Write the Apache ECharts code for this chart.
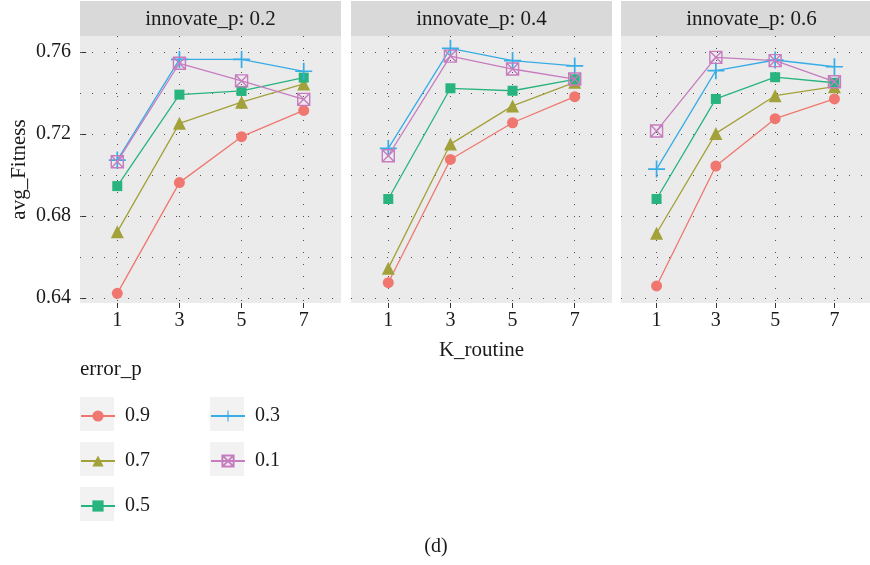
<!DOCTYPE html>
<html>
<head>
<meta charset="utf-8">
<script src="https://cdn.jsdelivr.net/npm/echarts@6/dist/echarts.min.js"></script>
<style>
  html, body { margin: 0; padding: 0; background: #fff; }
  #chart { width: 870px; height: 565px; }
</style>
</head>
<body>
<div id="chart"></div>
<script>
    // K_routine 取值
    var kRoutine = [1, 3, 5, 7];
    var yTicks = [0.64, 0.68, 0.72, 0.76];
    var yGrid = [0.64, 0.66, 0.68, 0.70, 0.72, 0.74, 0.76];
    var errorLevels = ['0.9', '0.7', '0.5', '0.3', '0.1'];
    var innovateLevels = ['0.2', '0.4', '0.6'];

    // innovate_p = 0.2
    var i02_e09 = [0.6423, 0.6963, 0.7187, 0.7315];
    var i02_e07 = [0.6723, 0.7252, 0.7355, 0.7444];
    var i02_e05 = [0.6946, 0.7392, 0.7410, 0.7475];
    var i02_e03 = [0.7073, 0.7564, 0.7564, 0.7506];
    var i02_e01 = [0.7065, 0.7545, 0.7459, 0.7369];
    // innovate_p = 0.4
    var i04_e09 = [0.6475, 0.7076, 0.7255, 0.7382];
    var i04_e07 = [0.6545, 0.7151, 0.7337, 0.7452];
    var i04_e05 = [0.6883, 0.7423, 0.7411, 0.7467];
    var i04_e03 = [0.7130, 0.7618, 0.7558, 0.7532];
    var i04_e01 = [0.7094, 0.7580, 0.7517, 0.7468];
    // innovate_p = 0.6
    var i06_e09 = [0.6459, 0.7044, 0.7275, 0.7371];
    var i06_e07 = [0.6716, 0.7203, 0.7387, 0.7431];
    var i06_e05 = [0.6883, 0.7371, 0.7477, 0.7450];
    var i06_e03 = [0.7029, 0.7509, 0.7561, 0.7528];
    var i06_e01 = [0.7215, 0.7574, 0.7558, 0.7455];

    var panels = [
        [i02_e09, i02_e07, i02_e05, i02_e03, i02_e01],
        [i04_e09, i04_e07, i04_e05, i04_e03, i04_e01],
        [i06_e09, i06_e07, i06_e05, i06_e03, i06_e01]
    ];

    var colors = ['#EF776F', '#A3A13A', '#27B47E', '#38ADE5', '#C67CBF'];
    var plusPath = 'path://M0,7.2H16V8.8H0Z M7.2,0H8.8V16H7.2Z';
    var boxXPath = 'path://M0,0H10V10H0Z M0,0L10,10 M10,0L0,10';
    var symbols = ['circle', 'triangle', 'rect', plusPath, boxXPath];
    var symbolSizes = [11, 13, 10, 17, 12];

    var font = 'Liberation Serif';
    var gridLeft = [80, 351, 621];
    var gridW = 261, gridTop = 36, gridH = 267;
    var dotted = { color: '#4d4d4d', width: 1, type: [1, 11] };

    var grids = [], xAxes = [], yAxes = [], series = [], graphics = [];

    gridLeft.forEach(function (left, g) {
        grids.push({
            left: left, top: gridTop, width: gridW, height: gridH,
            show: true, backgroundColor: '#EBEBEB', borderWidth: 0
        });
        xAxes.push({
            type: 'value', gridIndex: g, min: -0.2, max: 8.2,
            name: g === 1 ? 'K_routine' : '',
            nameLocation: 'middle', nameGap: 37,
            nameTextStyle: { fontFamily: font, fontSize: 21, color: '#1a1a1a' },
            axisLine: { show: false },
            axisTick: { show: true, length: 5, customValues: kRoutine, lineStyle: { color: '#333' } },
            axisLabel: { customValues: kRoutine, margin: 8, fontFamily: font, fontSize: 20, color: '#1a1a1a' },
            splitLine: { show: true, lineStyle: dotted }
        });
        // 刻度与标签
        yAxes.push({
            type: 'value', gridIndex: g, min: 0.6376, max: 0.7678,
            name: g === 0 ? 'avg_Fitness' : '',
            nameLocation: 'middle', nameGap: 50, nameRotate: 90,
            nameTextStyle: { fontFamily: font, fontSize: 21, color: '#1a1a1a' },
            axisLine: { show: false },
            axisTick: { show: g === 0, length: 5, customValues: yTicks, lineStyle: { color: '#333' } },
            axisLabel: {
                show: g === 0, customValues: yTicks, margin: 9,
                fontFamily: font, fontSize: 20, color: '#1a1a1a',
                formatter: function (v) { return v.toFixed(2); }
            },
            splitLine: { show: false }
        });
        // 网格点线
        yAxes.push({
            type: 'value', gridIndex: g, min: 0.6376, max: 0.7678,
            axisLine: { show: false },
            axisTick: { show: false, customValues: yGrid },
            axisLabel: { show: false, customValues: yGrid },
            splitLine: { show: true, lineStyle: dotted }
        });

        panels[g].forEach(function (vals, s) {
            var isOpen = s === 4;
            series.push({
                name: errorLevels[s],
                type: 'line',
                xAxisIndex: g,
                yAxisIndex: g * 2,
                data: kRoutine.map(function (k, i) { return [k, vals[i]]; }),
                symbol: symbols[s],
                symbolSize: symbolSizes[s],
                symbolKeepAspect: true,
                showAllSymbol: true,
                lineStyle: { color: colors[s], width: 1.3 },
                itemStyle: isOpen
                    ? { color: 'rgba(0,0,0,0)', borderColor: colors[s], borderWidth: 1.4 }
                    : { color: colors[s] },
                emphasis: { disabled: true },
                animation: false,
                z: 3 + s
            });
        });

        // 分面标题条
        graphics.push({
            type: 'rect', shape: { x: left, y: 1, width: gridW, height: 35 },
            style: { fill: '#D9D9D9' }, silent: true
        });
        graphics.push({
            type: 'text', x: left + gridW / 2, y: 19,
            style: {
                text: 'innovate_p: ' + innovateLevels[g], fill: '#1a1a1a',
                font: '21px "' + font + '"', align: 'center', verticalAlign: 'middle'
            }
        });
    });

    // 图例背景方块
    [[80, 397], [80, 442], [80, 487], [210, 397], [210, 442]].forEach(function (p) {
        graphics.push({
            type: 'rect', shape: { x: p[0], y: p[1], width: 34, height: 34 },
            style: { fill: '#F2F2F2' }, silent: true, z: -1
        });
    });
    graphics.push({
        type: 'text', x: 80, y: 369,
        style: { text: 'error_p', fill: '#1a1a1a', font: '21px "' + font + '"', verticalAlign: 'middle' }
    });
    graphics.push({
        type: 'text', x: 436, y: 547,
        style: { text: '(d)', fill: '#1a1a1a', font: '20px "' + font + '"', align: 'center', verticalAlign: 'middle' }
    });

    var myChart = echarts.init(document.getElementById('chart'), null, { renderer: 'canvas' });
    var option = {
        backgroundColor: '#fff',
        animation: false,
        grid: grids,
        xAxis: xAxes,
        yAxis: yAxes,
        legend: {
            orient: 'vertical',
            left: 75, top: 401,
            height: 120,
            itemWidth: 34, itemHeight: 14, itemGap: 25,
            data: errorLevels,
            selectedMode: false,
            textStyle: {
                fontFamily: font, fontSize: 20, color: '#1a1a1a',
                lineHeight: 14, width: 60, padding: [0, 0, 0, 5]
            }
        },
        graphic: graphics,
        series: series
    };
    myChart.setOption(option);
</script>
</body>
</html>
